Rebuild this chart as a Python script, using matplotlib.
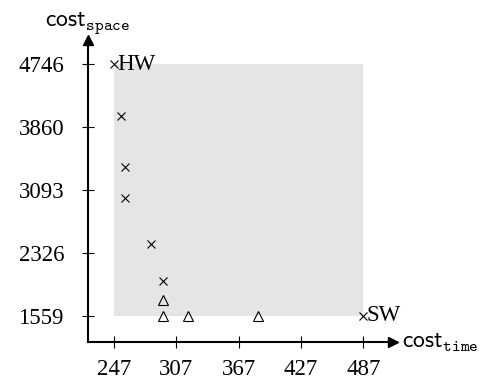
import matplotlib
matplotlib.use("Agg")
import matplotlib.pyplot as plt
import numpy as np

# pareto points (cost_time, cost_space)
cross_time = [247, 254, 258, 258, 283, 294, 487]
cross_space = [4746, 4015, 3373, 2999, 2436, 1979, 1559]
tri_time = [294, 294, 318, 386]
tri_space = [1750, 1559, 1559, 1559]

x_ticks = [247, 307, 367, 427, 487]
y_ticks = [1559, 2326, 3093, 3860, 4746]

# the top y tick sits one regular step above 3860, so the axis is squeezed above it
BREAK = 3860.0
SQUEEZE = 767.0 / 886.0


def fwd(y):
    y = np.asarray(y, dtype=float)
    return np.where(y <= BREAK, y, BREAK + (y - BREAK) * SQUEEZE)


def inv(y):
    y = np.asarray(y, dtype=float)
    return np.where(y <= BREAK, y, BREAK + (y - BREAK) / SQUEEZE)


plt.rcParams['mathtext.fontset'] = 'cm'
serif = 'Liberation Serif'

fig = plt.figure(figsize=(4.85, 3.81), dpi=100)
ax = fig.add_axes([88 / 485, 39 / 381, 305 / 485, 302 / 381])
ax.set_yscale('function', functions=(fwd, inv))
ax.set_xlim(222, 515.7)
ax.set_ylim(1241, 5086)

# shaded region
ax.fill_between([min(x_ticks), max(x_ticks)], min(y_ticks), max(y_ticks),
                color='#e5e5e5', lw=0, zorder=0)

ax.plot(cross_time, cross_space, 'x', color='black', ms=5.5, mew=0.8, zorder=3)
ax.plot(tri_time, tri_space, '^', mfc='none', mec='black', ms=6.5, mew=0.8, zorder=3)

ax.text(cross_time[0] + 3, cross_space[0], 'HW', fontfamily=serif, fontsize=16.5,
        ha='left', va='center')
ax.text(cross_time[-1] + 3, cross_space[-1], 'SW', fontfamily=serif, fontsize=16.5,
        ha='left', va='center')

for side in ['top', 'right']:
    ax.spines[side].set_visible(False)
for side in ['left', 'bottom']:
    ax.spines[side].set_linewidth(1.5)

ax.plot(1, 0, '>', color='black', ms=7, transform=ax.transAxes, clip_on=False)
ax.plot(0, 1, '^', color='black', ms=7, transform=ax.transAxes, clip_on=False)

ax.set_xticks(x_ticks)
ax.set_yticks(y_ticks)
ax.set_xticklabels([str(v) for v in x_ticks], fontfamily=serif, fontsize=16.5)
ax.set_yticklabels([str(v) for v in y_ticks], fontfamily=serif, fontsize=16.5)
ax.minorticks_off()
ax.tick_params(axis='both', direction='inout', length=8.5, width=0.8)
ax.tick_params(axis='y', pad=13)
ax.tick_params(axis='x', pad=8)

ax.text(1.03, 0, r'$\mathsf{cost}_{\mathtt{time}}$', transform=ax.transAxes,
        fontsize=17, ha='left', va='center')
fig.text(88 / 485, 1 - 26 / 381, r'$\mathsf{cost}_{\mathtt{space}}$',
         fontsize=17, ha='center', va='baseline')

fig.savefig('out.png', dpi=100)
